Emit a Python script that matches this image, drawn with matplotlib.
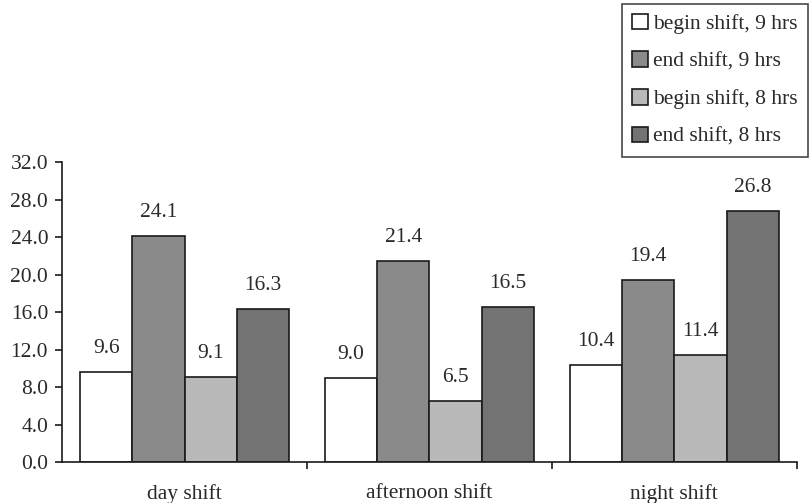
import matplotlib.pyplot as plt
import numpy as np

plt.rcParams['font.family'] = ['Liberation Serif', 'DejaVu Serif']

# shift groups and series
shifts = ['day shift', 'afternoon shift', 'night shift']
series = ['begin shift, 9 hrs', 'end shift, 9 hrs', 'begin shift, 8 hrs', 'end shift, 8 hrs']
begin_9 = [9.6, 9.0, 10.4]
end_9 = [24.1, 21.4, 19.4]
begin_8 = [9.1, 6.5, 11.4]
end_8 = [16.3, 16.5, 26.8]
yticks = [0, 4, 8, 12, 16, 20, 24, 28, 32]

colors = ['#ffffff', '#8a8a8a', '#b9b9b9', '#737373']
text_col = '#2a2a2a'
fs = 15.5

fig = plt.figure(figsize=(8.11, 5.03), dpi=100)
ax = fig.add_axes([0.0765, 0.0815, 0.906, 0.5964])

x = np.arange(len(shifts))
w = 0.213
data = [begin_9, end_9, begin_8, end_8]
for i, vals in enumerate(data):
    pos = x + (i - 1.5) * w
    bars = ax.bar(pos, vals, width=w, color=colors[i], edgecolor='#1a1a1a',
                  linewidth=1.2, label=series[i], zorder=2)
    for b, v in zip(bars, vals):
        ax.annotate(f'{v:.1f}', (b.get_x() + b.get_width() / 2, v),
                    xytext=(0, 10), textcoords='offset points',
                    ha='center', va='bottom', fontsize=fs, color=text_col)

ax.set_xlim(-0.5, 2.5)
ax.set_ylim(0, 32)
ax.set_yticks(yticks)
ax.set_yticklabels([f'{t:.1f}' for t in yticks])
ax.set_xticks(x)
ax.set_xticklabels(shifts)
ax.set_xticks([0.5, 1.5, 2.5], minor=True)
ax.tick_params(axis='x', which='major', length=0, pad=16, labelsize=fs, labelcolor=text_col)
ax.tick_params(axis='x', which='minor', length=5, width=1.2, direction='out', color='#1a1a1a')
ax.tick_params(axis='y', length=5, width=1.2, direction='out', labelsize=fs,
               labelcolor=text_col, color='#1a1a1a', pad=5)

for s in ['top', 'right']:
    ax.spines[s].set_visible(False)
for s in ['left', 'bottom']:
    ax.spines[s].set_linewidth(1.2)
    ax.spines[s].set_color('#1a1a1a')

leg = fig.legend(loc='upper right', bbox_to_anchor=(0.996, 0.992), fontsize=fs,
                 frameon=True, fancybox=False, handlelength=0.75, handleheight=0.75,
                 handletextpad=0.25, labelspacing=0.8, borderpad=0.45,
                 borderaxespad=0, labelcolor=text_col)
leg.get_frame().set_edgecolor('#1a1a1a')
leg.get_frame().set_linewidth(1.2)

fig.savefig('out.png', dpi=100)
